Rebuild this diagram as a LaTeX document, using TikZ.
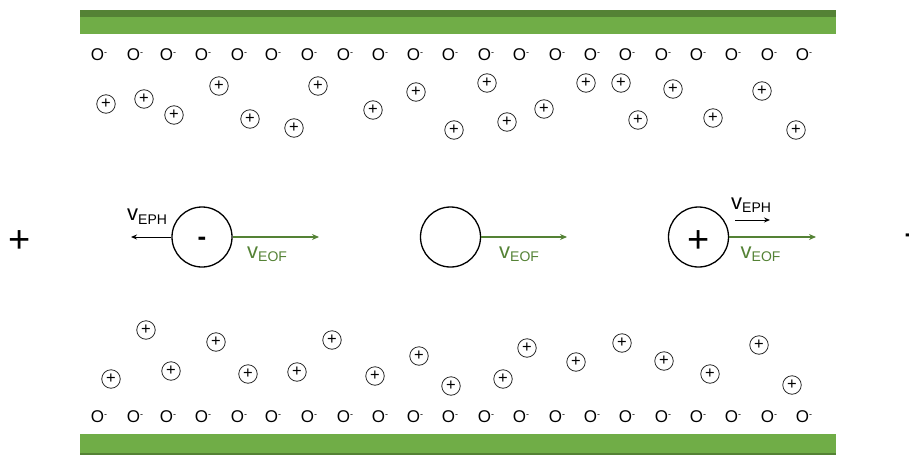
\documentclass[tikz,border=0pt]{standalone}
\usepackage{fontspec}
\setmainfont{Liberation Sans}
\usetikzlibrary{arrows.meta}
\definecolor{barlight}{HTML}{70AD47}
\definecolor{bardark}{HTML}{548235}
\definecolor{flowgreen}{HTML}{548235}
% velocity label: v with a lowered index
\newcommand{\velo}[1]{{\fontsize{22}{22}\selectfont v}\raisebox{-3.5pt}{\fontsize{14}{14}\selectfont #1}}
% surface oxygen with its negative charge
\newcommand{\oxyneg}{O\raisebox{5.5pt}{\fontsize{9}{9}\selectfont -}}
\begin{document}
\begin{tikzpicture}[x=1pt,y=-1pt,
  ion/.style={circle,draw=black!85,line width=0.8pt,minimum size=18.5pt,inner sep=0pt,
    font=\fontsize{16.5}{16.5}\selectfont},
  oxy/.style={inner sep=0pt,font=\fontsize{17}{17}\selectfont},
  particle/.style={circle,draw=black,line width=1.3pt,minimum size=60pt,inner sep=0pt},
  sign/.style={inner sep=0pt,anchor=base,font=\fontsize{38}{38}\selectfont},
  eof/.style={draw=flowgreen,line width=1.6pt,-{Stealth[length=7pt,width=6pt]}},
  eph/.style={draw=black,line width=1pt,-{Stealth[length=6pt,width=5pt]}},
  vlab/.style={inner sep=0pt,anchor=base west},
]
\useasboundingbox (0,0) rectangle (909,455);

% channel walls
\fill[barlight] (80,10) rectangle (836,34);
\fill[bardark] (80,10) rectangle (836,16.5);
\fill[barlight] (80,434) rectangle (836,455);
\fill[bardark] (80,452.5) rectangle (836,455);

% fixed negative charges on both walls
\foreach \x [count=\i] in {97,133,166,201,237,271,307,343,378,413,448,484,519,555,590,625,661,696,731,767,802}{
  \node[oxy] (ot\i) at (\x+2,55) {\oxyneg};
  \node[oxy] (ob\i) at (\x+2,417) {\oxyneg};
}

% mobile cations near the upper wall
\foreach \x/\y [count=\i] in {106/104,144/99,174/115,219/86,250/119,294/128,318/86,373/110,416/92,454/130,
  487/83,507/122,544/109,586/83,621/83,638/120,673/89,713/118,762/91,796/130}{
  \node[ion] (ct\i) at (\x,\y) {+};
}
% mobile cations near the lower wall
\foreach \x/\y [count=\i] in {146/330,111/379,171/371,216/342,248/374,297/372,332/340,375/376,419/356,451/386,
  503/379,527/348,576/362,622/343,664/361,710/374,759/345,792/385}{
  \node[ion] (cb\i) at (\x,\y) {+};
}

% electrodes
\node[sign] (anode) at (20,252.5) {+};
\node[sign,anchor=base west] (cathode) at (904,245.5) {-};

% analyte particles
\node[particle] (neg) at (202,237) {};
\node[sign,font=\fontsize{26}{26}\selectfont\bfseries] (negsign) at (202,245) {-};
\node[particle] (neu) at (450.5,237) {};
\node[particle] (pos) at (698.5,237) {};
\node[sign] (possign) at (698.5,252.5) {+};

% velocity vectors
\coordinate (negeph) at (131,237);
\coordinate (negeof) at (319,237);
\coordinate (neueof) at (567,237);
\coordinate (poseof) at (816,237);
\coordinate (posephA) at (735,220);
\coordinate (posephB) at (770,220);
\draw[eph] (neg.west) -- (negeph);
\draw[eof] (neg.east) -- (negeof);
\draw[eof] (neu.east) -- (neueof);
\draw[eof] (pos.east) -- (poseof);
\draw[eph] (posephA) -- (posephB);

% velocity labels
\node[vlab] (lnegeph) at (127,220.5) {\velo{EPH}};
\node[vlab,text=flowgreen] (lnegeof) at (247,258) {\velo{EOF}};
\node[vlab,text=flowgreen] (lneueof) at (499,258) {\velo{EOF}};
\node[vlab] (lposeph) at (731,209) {\velo{EPH}};
\node[vlab,text=flowgreen] (lposeof) at (740.5,258) {\velo{EOF}};
\end{tikzpicture}
\end{document}
